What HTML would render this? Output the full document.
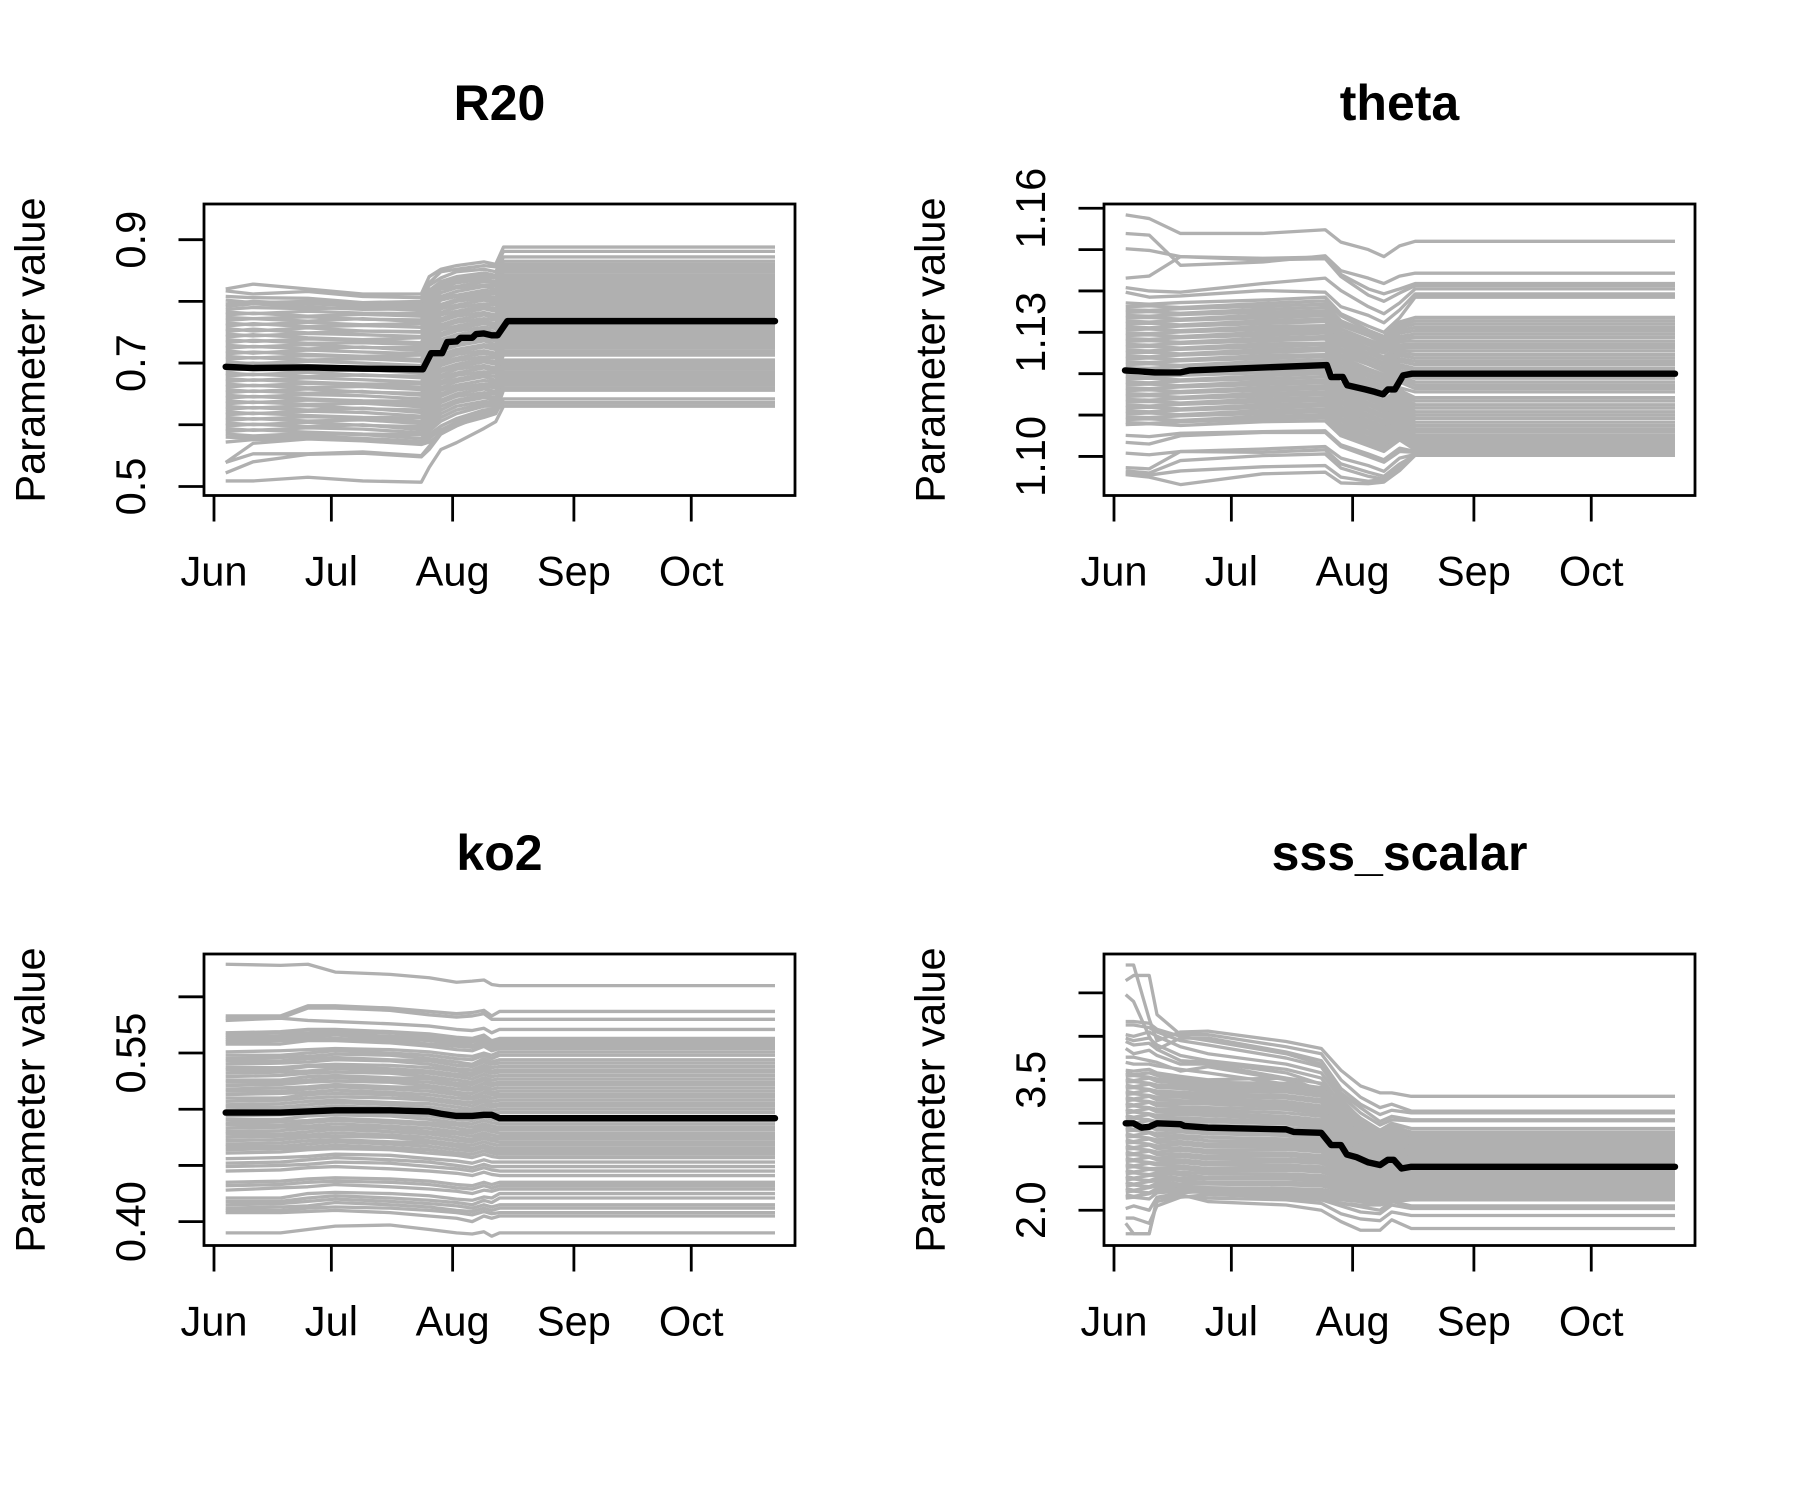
<!DOCTYPE html>
<html lang="en">
<head>
<meta charset="utf-8">
<title>Parameter value trajectories</title>
<style>
html,body{margin:0;padding:0;background:#fff;}
svg{display:block;}
text{font-family:"Liberation Sans",Arial,Helvetica,sans-serif;fill:#000;}
</style>
</head>
<body>
<svg id="chart" xmlns="http://www.w3.org/2000/svg" width="1800" height="1500" viewBox="0 0 1800 1500">
<rect x="0" y="0" width="1800" height="1500" fill="#ffffff"/>
</svg>
<script>
const monthLabels=['Jun','Jul','Aug','Sep','Oct'];
const monthDays=[0,30,61,92,122];
const lastDay=143.4;

/* R20: values in units of 0.001 */
const r20Ticks=[0.5,0.6,0.7,0.8,0.9];
const r20TickLabels=['0.5','','0.7','','0.9'];
const r20Days=[3,10,24,38,53,55,58,62,69,72,74];
const r20MeanDays=[3,10,24,38,53.4,55.5,58.3,59.6,62,63,66,67,69,71,72.5,75];
const r20Mean=[694,692,693,691,690,716,716,734,735,741,741,747,748,745,745,768];
const r20Members=[
[820,828,820,812,812,840,852,858,864,860,888],
[817,812,816,808,806,830,848,852,858,856,881],
[808,806,805,798,800,826,838,848,852,848,872],
[802,798,800,797,795,818,832,840,846,842,865],
[796,800,796,793,791,812,826,834,842,838,860],
[792,796,791,787,788,816,830,838,846,842,856],
[787,790,788,790,785,812,828,832,840,838,852],
[783,780,784,781,780,806,822,830,836,832,848],
[778,781,776,779,776,802,820,824,832,830,843],
[774,772,775,771,770,798,814,822,826,826,840],
[769,772,768,772,767,792,808,816,824,820,836],
[765,762,766,762,764,790,806,810,818,816,832],
[760,764,759,761,758,784,802,808,814,812,828],
[756,752,757,752,751,780,795,803,810,806,824],
[751,755,749,752,750,774,792,800,806,802,819],
[747,744,748,746,743,770,788,794,802,798,815],
[742,746,741,738,741,764,782,790,796,794,810],
[738,735,739,737,733,760,778,784,792,788,806],
[733,737,732,733,730,754,772,780,788,784,802],
[729,726,730,725,725,750,768,776,782,778,798],
[724,727,723,726,720,746,762,770,778,774,794],
[720,716,721,718,715,740,758,766,772,770,790],
[715,718,714,711,713,736,754,760,768,764,786],
[711,708,712,710,706,730,748,756,764,760,781],
[706,709,705,707,703,726,744,752,758,756,777],
[702,699,703,700,696,722,738,746,754,750,772],
[697,700,696,693,693,716,734,742,750,746,769],
[693,690,694,692,688,712,730,738,744,740,764],
[688,691,687,689,684,706,724,732,740,736,760],
[684,681,685,680,679,702,720,728,736,730,756],
[679,682,678,681,676,698,714,722,730,726,751],
[675,672,676,673,669,692,710,718,726,722,747],
[670,673,669,666,666,688,704,714,720,716,743],
[666,663,667,665,660,682,700,708,716,712,738],
[661,664,660,662,657,678,696,704,710,708,734],
[657,654,658,653,651,672,690,698,706,702,729],
[652,655,651,654,648,668,686,694,702,698,725],
[648,645,649,647,642,662,680,690,696,692,720],
[643,646,642,639,638,658,676,684,692,688,716],
[639,636,640,638,633,654,670,680,686,684,713],
[634,637,633,635,629,648,666,674,682,678,705],
[630,627,631,626,624,644,660,670,678,672,700],
[625,628,624,627,620,638,656,664,672,668,697],
[621,618,622,620,614,634,650,660,666,664,693],
[616,619,615,612,611,628,646,656,662,660,690],
[612,609,613,611,605,624,640,650,658,654,685],
[607,610,606,608,602,618,636,646,652,650,680],
[603,600,604,599,597,612,630,640,648,644,676],
[598,601,597,600,592,606,624,636,644,640,672],
[594,591,595,593,587,600,618,630,638,636,669],
[589,592,588,585,584,596,612,624,634,632,667],
[585,582,586,584,578,590,606,618,630,630,665],
[580,578,582,578,573,584,598,610,624,626,660],
[572,576,578,576,570,578,592,604,618,620,656],
[539,570,577,574,568,572,585,600,612,618,642],
[539,553,553,556,550,565,590,605,620,625,636],
[522,540,552,554,548,560,585,598,616,622,635],
[509,509,515,509,507,531,560,571,594,605,630]
];

/* theta: values in units of 0.0001 */
const thetaTicks=[1.10,1.11,1.12,1.13,1.14,1.15,1.16];
const thetaTickLabels=['1.10','','','1.13','','','1.16'];
const thetaDays=[3,9,17,38,54,58,65,69,73,77];
const thetaMeanDays=[2.8,10.5,16.9,19.4,54.4,55.5,58.5,59.6,64.2,66.7,68.8,70,71.8,73.9,76.2];
const thetaMean=[11208,11203,11203,11208,11221,11192,11192,11172,11162,11156,11150,11162,11162,11196,11200];
const thetaMembers=[
[11584,11575,11539,11539,11548,11518,11500,11483,11509,11520],
[11539,11535,11462,11470,11485,11449,11431,11418,11436,11443],
[11502,11498,11483,11479,11482,11440,11405,11393,11405,11418],
[11431,11436,11483,11475,11478,11435,11390,11375,11395,11413],
[11408,11400,11397,11418,11431,11401,11362,11345,11371,11405],
[11397,11385,11388,11401,11397,11362,11341,11323,11354,11393],
[11371,11368,11372,11378,11385,11345,11315,11300,11335,11385],
[11362,11364,11360,11370,11376,11340,11305,11290,11325,11336],
[11355,11353,11357,11363,11368,11328,11300,11285,11318,11328],
[11348,11350,11346,11356,11360,11322,11296,11280,11312,11320],
[11341,11339,11343,11349,11352,11316,11292,11274,11305,11312],
[11334,11336,11332,11342,11346,11308,11282,11268,11298,11304],
[11327,11325,11329,11335,11340,11300,11276,11262,11290,11296],
[11320,11322,11318,11328,11332,11295,11270,11256,11284,11288],
[11313,11311,11315,11321,11326,11288,11262,11250,11278,11279],
[11306,11308,11304,11314,11316,11280,11258,11240,11270,11271],
[11299,11297,11301,11307,11310,11275,11250,11234,11264,11263],
[11292,11294,11290,11300,11304,11268,11242,11226,11256,11255],
[11285,11283,11287,11293,11298,11260,11236,11220,11250,11246],
[11278,11280,11276,11286,11290,11254,11228,11212,11244,11238],
[11271,11269,11273,11279,11284,11246,11222,11206,11236,11230],
[11264,11266,11262,11272,11274,11240,11212,11198,11230,11222],
[11257,11255,11259,11265,11270,11232,11208,11192,11222,11213],
[11250,11252,11248,11258,11262,11226,11200,11184,11216,11205],
[11243,11241,11245,11251,11256,11218,11194,11178,11208,11197],
[11236,11238,11234,11244,11246,11212,11186,11170,11202,11189],
[11229,11227,11231,11237,11242,11204,11180,11164,11194,11180],
[11222,11224,11220,11230,11234,11198,11172,11156,11188,11172],
[11215,11213,11217,11223,11228,11190,11166,11150,11180,11164],
[11201,11203,11199,11209,11212,11176,11150,11136,11166,11156],
[11194,11192,11196,11202,11206,11170,11144,11128,11160,11142],
[11187,11189,11185,11195,11200,11162,11138,11122,11152,11134],
[11180,11178,11182,11188,11192,11156,11130,11114,11146,11125],
[11173,11175,11171,11181,11184,11148,11124,11108,11138,11117],
[11166,11164,11168,11174,11178,11142,11116,11100,11132,11108],
[11159,11161,11157,11167,11170,11134,11110,11094,11124,11100],
[11152,11150,11154,11160,11164,11128,11102,11086,11118,11092],
[11145,11147,11143,11153,11156,11120,11096,11080,11110,11083],
[11138,11136,11140,11146,11150,11114,11088,11072,11104,11075],
[11131,11133,11129,11139,11142,11106,11082,11066,11096,11067],
[11124,11122,11126,11132,11136,11100,11074,11060,11090,11060],
[11117,11119,11115,11125,11128,11092,11068,11052,11082,11052],
[11110,11108,11112,11118,11122,11086,11060,11046,11076,11046],
[11103,11105,11101,11111,11114,11078,11054,11038,11068,11040],
[11096,11094,11098,11104,11108,11072,11046,11032,11062,11034],
[11089,11091,11087,11097,11100,11064,11040,11024,11054,11028],
[11082,11080,11084,11090,11094,11058,11032,11018,11048,11022],
[11077,11079,11075,11084,11086,11050,11026,11012,11040,11016],
[11051,11048,11056,11060,11062,11028,11006,10992,11020,11012],
[11034,11030,11050,11058,11058,11024,11000,10986,11012,11010],
[11008,11004,11012,11018,11024,10996,10978,10964,10996,11005],
[10973,10970,11012,11010,11016,10982,10962,10952,10982,11003],
[10965,10960,10990,11002,11006,10972,10952,10945,10978,11006],
[10960,10955,10965,10975,10978,10950,10940,10945,10972,11003],
[10956,10950,10932,10958,10962,10936,10934,10938,10966,11003]
];

/* ko2: values in units of 0.001 */
const ko2Ticks=[0.40,0.45,0.50,0.55,0.60];
const ko2TickLabels=['0.40','','','0.55',''];
const ko2Days=[3,17,24,31,45,55,62,66,69,71,73];
const ko2MeanDays=[3,17,24,31,45,55,58,62,66,69,71,73];
const ko2Mean=[497,497,498,499,499,498,496,494,494,495,495,492];
const ko2Members=[
[629,628,629,622,620,617,613,614,615,611,610],
[583,583,592,592,590,587,585,586,588,583,587],
[581,581,590,590,588,584,582,583,585,580,580],
[579,581,579,578,576,574,571,570,572,568,571],
[568,569,571,571,569,567,564,563,566,561,563],
[566,568,568,569,568,565,562,561,564,559,561],
[564,565,566,567,565,563,560,560,562,558,559],
[562,563,564,566,563,561,558,557,560,556,557],
[560,561,562,563,561,558,556,555,558,554,556],
[558,558,561,561,559,556,553,552,556,552,554],
[551,552,553,554,553,551,548,547,550,548,551],
[548,548,550,552,550,548,545,544,548,545,548],
[545,546,547,549,548,545,542,540,545,542,544],
[543,543,545,546,544,543,539,538,542,540,541],
[540,541,542,544,543,540,536,535,539,537,538],
[537,537,539,540,539,537,534,532,537,534,535],
[535,535,538,538,536,534,531,530,534,532,533],
[532,533,534,536,534,532,529,527,531,529,530],
[529,530,532,533,532,529,526,524,528,526,527],
[526,526,529,530,528,527,523,522,526,523,524],
[524,524,526,528,526,524,521,519,523,521,522],
[521,522,524,525,524,521,518,517,520,518,519],
[518,519,520,522,520,519,515,514,518,515,516],
[516,516,518,520,518,516,513,511,515,513,513],
[513,514,515,517,515,513,510,509,512,510,511],
[510,510,513,514,513,510,507,506,509,507,508],
[507,508,510,511,510,508,505,503,507,504,505],
[504,505,507,508,506,505,502,500,504,502,503],
[502,502,504,506,504,502,499,498,501,499,500],
[499,500,501,503,501,499,497,495,498,496,497],
[494,495,496,498,496,494,491,490,493,491,490],
[491,491,494,495,494,491,488,487,490,488,487],
[488,489,490,492,490,488,486,484,487,485,484],
[486,486,488,490,488,486,483,481,485,482,482],
[483,484,485,487,485,483,480,479,482,480,479],
[480,481,483,484,483,480,478,476,479,477,476],
[478,478,480,482,480,478,475,473,477,474,474],
[475,476,477,479,477,475,472,471,474,472,471],
[472,473,475,476,475,472,469,468,471,469,468],
[469,470,472,473,471,470,467,465,468,466,465],
[467,467,469,471,469,467,464,463,466,463,463],
[464,465,466,468,466,464,461,460,463,461,460],
[461,462,464,465,464,461,459,457,460,458,457],
[456,457,458,460,459,456,454,452,455,453,453],
[452,453,455,457,455,453,450,448,451,449,449],
[449,450,451,453,452,449,447,445,448,446,445],
[445,446,448,449,447,445,443,441,444,442,441],
[435,436,438,439,438,436,433,432,435,433,435],
[432,433,435,436,435,433,430,429,432,430,432],
[428,430,431,433,431,429,427,425,428,427,429],
[421,421,425,426,425,423,420,419,422,421,425],
[418,418,421,423,421,419,417,415,419,417,421],
[415,416,418,420,418,416,414,412,415,413,415],
[412,413,414,417,415,413,410,409,412,410,412],
[410,410,412,413,412,410,408,406,409,407,408],
[408,408,409,410,408,405,403,400,405,403,405],
[390,390,393,396,397,393,390,389,391,387,390]
];

/* sss_scalar: values in units of 0.01 */
const sssTicks=[2.0,2.5,3.0,3.5,4.0,4.5];
const sssTickLabels=['2.0','','','3.5','',''];
const sssDays=[3,5,9,11,17,24,44,53,58,63,68,71,76];
const sssMeanDays=[3,5,7,9,11,17,18,24,44,46,53,55.5,58,59.5,62,65,68,70,71.5,73.5,76];
const sssMean=[300,300,295,296,300,299,297,295,293,290,289,275,275,264,261,255,252,258,258,248,250];
const sssMembers=[
[482,482,420,395,405,406,394,386,361,343,335,335,331],
[464,470,470,425,402,402,388,380,350,330,318,322,314],
[448,440,400,385,398,398,382,372,340,322,310,315,312],
[417,417,415,408,400,395,380,368,335,318,302,308,304],
[413,413,410,405,395,390,375,365,332,312,298,304,303],
[402,400,405,400,388,380,368,358,328,305,292,300,294],
[398,395,398,390,378,372,362,352,322,300,288,296,290],
[394,390,392,385,372,370,358,345,315,296,284,292,288],
[386,380,384,378,368,368,352,338,310,292,280,290,286],
[376,376,372,370,360,365,350,332,305,290,278,288,283],
[370,368,368,366,362,358,345,335,308,292,280,286,281],
[361,360,362,358,354,350,352,346,325,306,292,299,288],
[358,356,358,355,351,347,346,341,320,303,290,296,286],
[354,355,353,351,349,345,345,340,318,301,287,294,283],
[351,349,352,348,346,342,342,336,316,298,285,292,281],
[347,348,346,344,343,340,339,333,313,296,282,289,279],
[344,342,345,341,340,337,336,331,310,294,280,287,277],
[340,341,339,337,336,334,332,327,307,291,278,285,275],
[337,335,338,334,333,331,329,324,304,288,275,282,272],
[333,334,332,330,330,328,325,320,301,286,273,279,270],
[330,328,331,327,326,325,322,317,298,283,271,277,268],
[326,327,325,323,323,322,319,314,296,281,269,275,266],
[323,321,324,320,319,318,316,311,293,278,267,273,264],
[319,320,318,316,316,315,312,308,290,276,265,271,262],
[316,314,317,313,313,312,308,304,287,273,262,268,259],
[312,313,311,309,310,309,305,301,284,271,260,265,257],
[309,307,310,306,306,305,302,298,282,268,258,263,255],
[305,306,304,302,303,302,299,295,279,266,256,261,253],
[302,300,303,299,300,298,295,292,276,263,254,258,251],
[298,299,297,295,296,295,292,288,273,261,251,256,249],
[295,293,296,292,293,291,289,285,270,259,250,255,247],
[291,292,290,288,290,288,286,282,268,257,248,253,246],
[288,286,289,285,286,284,282,279,265,255,246,251,244],
[284,285,283,281,283,280,279,276,263,253,245,249,243],
[281,279,282,278,279,276,276,273,260,251,243,247,241],
[277,278,276,274,276,273,273,270,258,249,242,246,240],
[274,272,275,271,272,269,270,267,255,247,240,244,238],
[270,271,269,267,269,266,266,263,253,245,239,242,237],
[267,265,268,264,265,262,263,260,250,243,237,240,235],
[263,264,262,260,262,259,259,257,248,241,235,238,234],
[260,258,261,258,258,255,256,254,245,239,233,236,232],
[256,257,255,254,255,252,252,250,242,236,231,234,230],
[253,251,254,252,251,248,249,247,240,234,229,232,228],
[249,250,248,248,248,245,246,244,237,231,227,230,226],
[246,244,247,246,244,242,242,240,234,229,225,228,224],
[242,243,241,243,241,238,239,237,231,226,223,226,222],
[239,237,240,240,237,236,236,234,228,224,221,224,220],
[235,236,234,237,234,232,232,231,226,222,219,222,218],
[232,230,233,234,230,230,229,228,223,219,217,220,216],
[228,229,227,231,227,226,225,224,220,216,214,218,214],
[225,223,226,228,224,224,222,221,217,214,212,216,212],
[221,222,220,225,224,222,219,218,214,212,210,214,212],
[218,216,219,222,222,220,216,215,212,210,208,212,212],
[214,215,213,220,222,222,214,212,208,206,206,210,212],
[202,205,200,215,220,222,218,214,208,204,200,210,205],
[191,191,185,205,215,218,215,212,205,198,196,206,202],
[185,173,173,210,216,214,212,208,196,190,188,198,194],
[173,173,173,214,218,210,206,200,187,177,177,189,179]
];

/* Axis geometry */
const frameLeft=204, frameRight=795, frameTop=204, frameBottom=495.5;
const xDomainMin=-2.556, xDomainMax=148.52;

function xScale(day){
  return frameLeft+(day-xDomainMin)*(frameRight-frameLeft)/(xDomainMax-xDomainMin);
}
function yScale(value,domain){
  return frameBottom-(value-domain[0])*(frameBottom-frameTop)/(domain[1]-domain[0]);
}
function seriesPoints(days,values,unit,domain){
  const pts=values.map(function(v,i){return xScale(days[i]).toFixed(1)+','+yScale(v*unit,domain).toFixed(2);});
  pts.push(xScale(lastDay).toFixed(1)+','+yScale(values[values.length-1]*unit,domain).toFixed(2));
  return pts.join(' ');
}

const svgNS='http://www.w3.org/2000/svg';
const chart=document.getElementById('chart');

function drawPanel(key,title,dx,dy,domain,unit,days,members,meanDays,mean,ticks,tickLabels){
  const g=document.createElementNS(svgNS,'g');
  g.setAttribute('transform','translate('+dx+','+dy+')');
  
  
  chart.appendChild(g);

  members.forEach(function(values){
    const line=document.createElementNS(svgNS,'polyline');
    line.setAttribute('points',seriesPoints(days,values,unit,domain));
    line.setAttribute('fill','none');
    line.setAttribute('stroke','#b0b0b0');
    line.setAttribute('stroke-width','3.3');
    line.setAttribute('stroke-linejoin','round');
    
    
    g.appendChild(line);
  });

  const meanLine=document.createElementNS(svgNS,'polyline');
  meanLine.setAttribute('points',seriesPoints(meanDays,mean,unit,domain));
  meanLine.setAttribute('fill','none');
  meanLine.setAttribute('stroke','#000000');
  meanLine.setAttribute('stroke-width','6.4');
  meanLine.setAttribute('stroke-linejoin','round');
  meanLine.setAttribute('stroke-linecap','round');
  
  
  g.appendChild(meanLine);

  const frame=document.createElementNS(svgNS,'rect');
  frame.setAttribute('x',frameLeft);
  frame.setAttribute('y',frameTop);
  frame.setAttribute('width',frameRight-frameLeft);
  frame.setAttribute('height',frameBottom-frameTop);
  frame.setAttribute('fill','none');
  frame.setAttribute('stroke','#000000');
  frame.setAttribute('stroke-width','2.8');
  
  
  g.appendChild(frame);

  monthDays.forEach(function(day,i){
    const tick=document.createElementNS(svgNS,'line');
    tick.setAttribute('x1',xScale(day));
    tick.setAttribute('x2',xScale(day));
    tick.setAttribute('y1',frameBottom);
    tick.setAttribute('y2',frameBottom+26);
    tick.setAttribute('stroke','#000000');
    tick.setAttribute('stroke-width','2.8');
    
    
    g.appendChild(tick);

    const label=document.createElementNS(svgNS,'text');
    label.setAttribute('x',xScale(day));
    label.setAttribute('y',585.5);
    label.setAttribute('text-anchor','middle');
    label.setAttribute('font-size','41.6');
    label.textContent=monthLabels[i];
    
    
    g.appendChild(label);
  });

  ticks.forEach(function(value,i){
    const y=yScale(value,domain);
    const tick=document.createElementNS(svgNS,'line');
    tick.setAttribute('x1',frameLeft-25.5);
    tick.setAttribute('x2',frameLeft);
    tick.setAttribute('y1',y);
    tick.setAttribute('y2',y);
    tick.setAttribute('stroke','#000000');
    tick.setAttribute('stroke-width','2.8');
    
    
    g.appendChild(tick);
    if(tickLabels[i]){
      const label=document.createElementNS(svgNS,'text');
      label.setAttribute('transform','translate(145,'+y+') rotate(-90)');
      label.setAttribute('text-anchor','middle');
      label.setAttribute('font-size','41.6');
      label.textContent=tickLabels[i];
      
      
      g.appendChild(label);
    }
  });

  const yTitle=document.createElementNS(svgNS,'text');
  yTitle.setAttribute('transform','translate(44.5,350) rotate(-90)');
  yTitle.setAttribute('text-anchor','middle');
  yTitle.setAttribute('font-size','41.6');
  yTitle.textContent='Parameter value';
  
  
  g.appendChild(yTitle);

  const heading=document.createElementNS(svgNS,'text');
  heading.setAttribute('x',499.5);
  heading.setAttribute('y',120);
  heading.setAttribute('text-anchor','middle');
  heading.setAttribute('font-size','50');
  heading.setAttribute('font-weight','bold');
  heading.textContent=title;
  
  
  g.appendChild(heading);
}

drawPanel('r20','R20',0,0,[0.4854,0.9578],0.001,r20Days,r20Members,r20MeanDays,r20Mean,r20Ticks,r20TickLabels);
drawPanel('theta','theta',900,0,[1.09056,1.16102],0.0001,thetaDays,thetaMembers,thetaMeanDays,thetaMean,thetaTicks,thetaTickLabels);
drawPanel('ko2','ko2',0,750,[0.37877,0.6381],0.001,ko2Days,ko2Members,ko2MeanDays,ko2Mean,ko2Ticks,ko2TickLabels);
drawPanel('sss-scalar','sss_scalar',900,750,[1.5947,4.9466],0.01,sssDays,sssMembers,sssMeanDays,sssMean,sssTicks,sssTickLabels);
</script>
</body>
</html>
